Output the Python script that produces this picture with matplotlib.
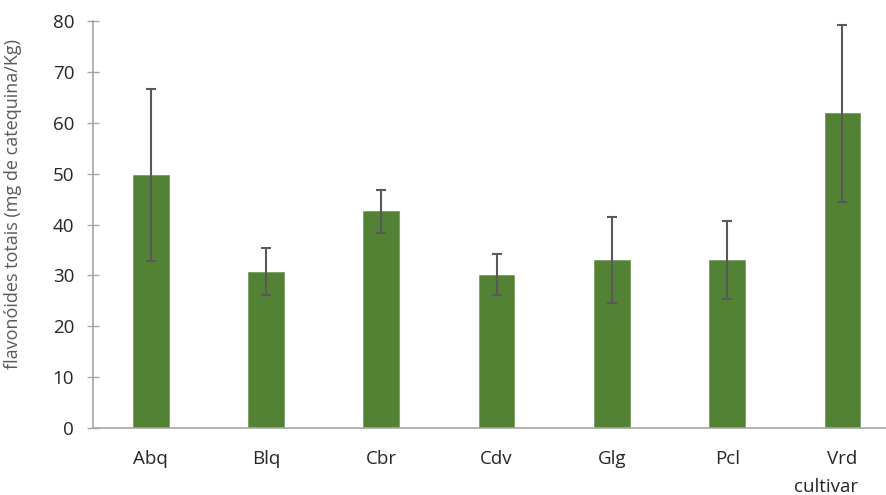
import numpy as np
import matplotlib
matplotlib.use("Agg")
import matplotlib.pyplot as plt

cultivares = ["Abq", "Blq", "Cbr", "Cdv", "Glg", "Pcl", "Vrd"]
flavonoides = [49.7, 30.7, 42.6, 30.1, 33.0, 33.0, 61.9]
desvio = [16.85, 4.65, 4.2, 4.05, 8.45, 7.7, 17.4]

plt.rcParams['font.family'] = ['Open Sans', 'DejaVu Sans']

fig = plt.figure(figsize=(8.86, 4.95), dpi=100)
ax = fig.add_axes([93 / 886, 1 - 428 / 495, (886 - 93) / 886, (428 - 21) / 495])

x = np.arange(len(cultivares))
ax.bar(x, flavonoides, width=0.31, color="#548235", edgecolor="#7a9c62", linewidth=0.6, zorder=2)
ax.errorbar(x, flavonoides, yerr=desvio, fmt="none", ecolor="#595959",
            elinewidth=1.5, capsize=3.5, capthick=1.5, zorder=3)

ax.set_xlim(-0.5, -0.5 + (886 - 93) / 115.3)
ax.set_ylim(0, 80)
ax.set_yticks(np.arange(0, 81, 10))
ax.set_xticks(x)
ax.set_xticklabels(cultivares)

for s in ["top", "right"]:
    ax.spines[s].set_visible(False)
ax.spines["left"].set_color("#a6a6a6")
ax.spines["bottom"].set_color("#a6a6a6")
ax.spines["left"].set_linewidth(1.2)
ax.spines["bottom"].set_linewidth(1.2)

ax.tick_params(axis="y", direction="inout", length=9, width=1.0, color="#a6a6a6",
               labelsize=13.5, labelcolor="#262626", pad=9)
ax.tick_params(axis="x", length=0, labelsize=13.5, labelcolor="#262626", pad=16)

ax.set_ylabel("flavonóides totais (mg de catequina/Kg)", fontsize=13, color="#595959")
ax.yaxis.set_label_coords(-(93 - 22) / 793, 0.55)
fig.text(826 / 886, 1 - 487 / 495, "cultivar", fontsize=13.5, color="#262626", ha="center", va="center")

fig.savefig("out.png", dpi=100)
